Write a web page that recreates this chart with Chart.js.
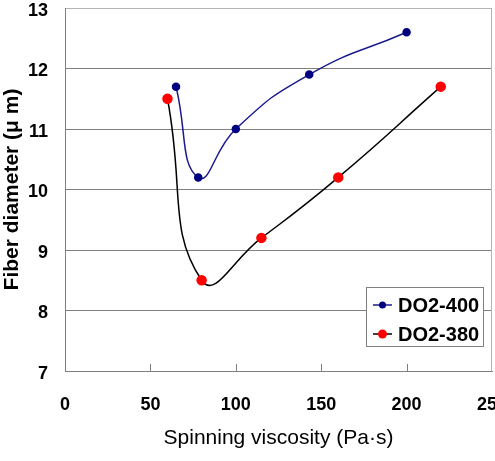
<!DOCTYPE html>
<html>
<head>
<meta charset="utf-8">
<script src="https://cdn.jsdelivr.net/npm/chart.js@4/dist/chart.umd.min.js"></script>
<style>
html,body{margin:0;padding:0;background:#fff;overflow:hidden;}
#wrap{position:absolute;left:0;top:0;width:498px;height:461px;}
</style>
</head>
<body>
<div id="wrap"><canvas id="c"></canvas></div>
<script>
// ---- data ----
const seriesNames = ["DO2-400", "DO2-380"];
const do400X = [65, 78, 100, 143, 200];
const do400Y = [11.7, 10.2, 11.0, 11.9, 12.6];
const do380X = [60, 80, 115, 160, 220];
const do380Y = [11.5, 8.5, 9.2, 10.2, 11.7];
const xTicks = [0, 50, 100, 150, 200, 250];
const yTicks = [7, 8, 9, 10, 11, 12, 13];
const xTitle = "Spinning viscosity (Pa·s)";
const yTitle = "Fiber diameter (μ m)";

const tickFont = {family: "'Liberation Sans',Arial,sans-serif", size: 18, weight: 'bold'};

const toPts = (xs, ys) => xs.map((x, i) => ({x: x, y: ys[i]}));

const frame = {
  id: 'frame',
  afterDatasetsDraw(chart) {
    const {ctx, chartArea: a, scales: {x}} = chart;
    ctx.save();
    ctx.strokeStyle = '#b4b4b4';
    ctx.lineWidth = 1;
    ctx.beginPath();
    ctx.moveTo(Math.round(a.right) - 0.5, a.top);
    ctx.lineTo(Math.round(a.right) - 0.5, a.bottom);
    ctx.stroke();
    ctx.strokeStyle = '#808080';
    xTicks.forEach(v => {
      if (v === 0 || v === 250) return;
      const px = Math.round(x.getPixelForValue(v)) + 0.5;
      ctx.beginPath();
      ctx.moveTo(px, a.bottom);
      ctx.lineTo(px, a.bottom - 7);
      ctx.stroke();
    });
    const lx = 366, ly = 287, lw = 117, lh = 59;
    ctx.fillStyle = '#fff';
    ctx.fillRect(lx, ly, lw, lh);
    ctx.strokeStyle = '#808080';
    ctx.strokeRect(lx + 0.5, ly + 0.5, lw, lh);
    chart.data.datasets.forEach((ds, i) => {
      const cy = ly + 18 + i * 29;
      ctx.strokeStyle = ds.borderColor;
      ctx.lineWidth = 1.5;
      ctx.beginPath();
      ctx.moveTo(373, cy);
      ctx.lineTo(392, cy);
      ctx.stroke();
      ctx.fillStyle = ds.pointBackgroundColor;
      ctx.beginPath();
      ctx.arc(382.5, cy, ds.pointRadius, 0, Math.PI * 2);
      ctx.fill();
      ctx.fillStyle = '#000';
      ctx.font = "bold 20px 'Liberation Sans',Arial,sans-serif";
      ctx.textBaseline = 'middle';
      ctx.textAlign = 'left';
      ctx.fillText(ds.label, 398, cy + 1);
    });
    ctx.restore();
  }
};

new Chart(document.getElementById('c'), {
  type: 'line',
  data: {
    datasets: [
      {
        label: seriesNames[0],
        data: toPts(do400X, do400Y),
        borderColor: '#1a1a8c',
        pointBackgroundColor: '#000080',
        pointBorderColor: '#000080',
        pointRadius: 3.5,
        borderWidth: 1.5,
        tension: 0.5,
        fill: false
      },
      {
        label: seriesNames[1],
        data: toPts(do380X, do380Y),
        borderColor: '#000000',
        pointBackgroundColor: '#ff0000',
        pointBorderColor: '#ff0000',
        pointRadius: 4.5,
        borderWidth: 1.5,
        tension: 0.5,
        fill: false
      }
    ]
  },
  options: {
    responsive: true,
    maintainAspectRatio: false,
    animation: false,
    layout: {padding: {left: 0, top: 8, right: 0, bottom: 0}},
    plugins: {legend: {display: false}, tooltip: {enabled: false}},
    scales: {
      x: {
        type: 'linear',
        min: 0, max: 250,
        afterBuildTicks: s => { s.ticks = xTicks.map(v => ({value: v})); },
        afterFit: s => { s.height = 90; s.paddingRight = 0; s.paddingLeft = 0; },
        grid: {display: false, drawTicks: false},
        border: {display: true, color: '#808080', width: 1},
        ticks: {color: '#000', font: tickFont, padding: 23, maxRotation: 0, autoSkip: false},
        title: {display: true, text: xTitle, color: '#000',
          font: {family: "'Liberation Sans',Arial,sans-serif", size: 21, weight: 'normal'},
          padding: {top: 0, bottom: 10}}
      },
      y: {
        type: 'linear',
        min: 7, max: 13,
        afterBuildTicks: s => { s.ticks = yTicks.map(v => ({value: v})); },
        afterFit: s => { s.width = 65; s.paddingTop = 0; s.paddingBottom = 0; },
        grid: {drawTicks: false, color: c => (c.tick && c.tick.value === 13) ? '#b4b4b4' : '#808080', lineWidth: 1},
        border: {display: true, color: '#808080', width: 1},
        ticks: {color: '#000', font: tickFont, padding: 17, labelOffset: 3},
        title: {display: true, text: yTitle, color: '#000',
          font: {family: "'Liberation Sans',Arial,sans-serif", size: 21, weight: 'bold'},
          padding: {top: 0, bottom: 0}}
      }
    }
  },
  plugins: [frame]
});
</script>
</body>
</html>
